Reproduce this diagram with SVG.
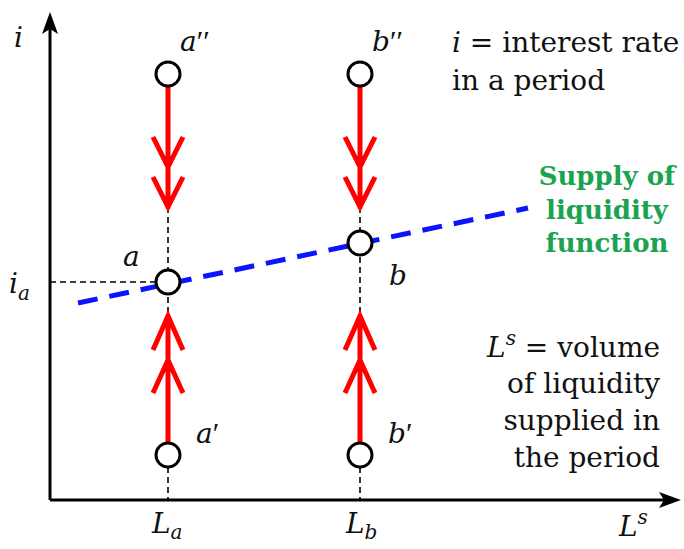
<svg xmlns="http://www.w3.org/2000/svg" width="684" height="549" viewBox="0 0 684 549">
<style>
.txt{font-family:"DejaVu Serif","Liberation Serif",serif;font-size:28px;fill:#111}
.m{font-family:"DejaVu Serif","Liberation Serif",serif;font-style:italic;font-size:28px;fill:#111}
.sub{font-size:20px}
.pr{font-style:normal;font-family:"Liberation Serif","DejaVu Serif",serif;font-size:30px}
.green{font-family:"DejaVu Serif","Liberation Serif",serif;font-weight:bold;font-size:26px;fill:#1aa350}
.axis{stroke:#000;stroke-width:3;fill:none}
.guide{stroke:#000;stroke-width:1.6;stroke-dasharray:6 4;fill:none}
.red{stroke:#ff0000;stroke-width:5;fill:none;stroke-linecap:butt;stroke-linejoin:miter}
.pt{fill:#fff;stroke:#000;stroke-width:3}
.supply{stroke:#0a14ff;stroke-width:5;stroke-dasharray:20 12;fill:none}
</style>
<g id="axes">
<line class="axis" x1="50" y1="500" x2="50" y2="28"/>
<polygon points="50,12 42,34 50,29 58,34" fill="#000"/>
<line class="axis" x1="50" y1="500" x2="666" y2="500"/>
<polygon points="681,500 659,492 664,500 659,508" fill="#000"/>
<text class="m" x="14" y="47">i</text>
<text class="m" x="619" y="536">L<tspan class="sub" dy="-12">s</tspan></text>
</g>
<g id="connectors">
<line class="guide" x1="168" y1="207" x2="168" y2="500"/>
<line class="guide" x1="360" y1="207" x2="360" y2="500"/>
<line class="guide" x1="50" y1="282" x2="156" y2="282"/>
<line class="supply" x1="78" y1="303" x2="528" y2="208"/>
<path class="red" d="M168,86 V207 M153,137 L168,167 L183,137 M153,177 L168,207 L183,177"/>
<path class="red" d="M360,86 V207 M345,137 L360,167 L375,137 M345,177 L360,207 L375,177"/>
<path class="red" d="M168,443 V316 M153,350 L168,316 L183,350 M153,393 L168,360 L183,393"/>
<path class="red" d="M360,443 V316 M345,350 L360,316 L375,350 M345,393 L360,360 L375,393"/>
</g>
<g id="node-a2"><circle class="pt" cx="168" cy="74" r="12"/><text class="m" x="180" y="51">a<tspan class="pr">′′</tspan></text></g>
<g id="node-b2"><circle class="pt" cx="360" cy="74" r="12"/><text class="m" x="372" y="51">b<tspan class="pr">′′</tspan></text></g>
<g id="node-a"><circle class="pt" cx="168" cy="282" r="12"/><text class="m" x="123" y="266">a</text></g>
<g id="node-b"><circle class="pt" cx="360" cy="243" r="12"/><text class="m" x="389" y="285">b</text></g>
<g id="node-a1"><circle class="pt" cx="168" cy="455" r="12"/><text class="m" x="196" y="443">a<tspan class="pr">′</tspan></text></g>
<g id="node-b1"><circle class="pt" cx="360" cy="455" r="12"/><text class="m" x="388" y="443">b<tspan class="pr">′</tspan></text></g>
<g id="labels">
<text class="m" x="9" y="293">i<tspan class="sub" dy="7">a</tspan></text>
<text class="m" x="152" y="533">L<tspan class="sub" dy="6">a</tspan></text>
<text class="m" x="346" y="533">L<tspan class="sub" dy="6">b</tspan></text>
<text class="txt" x="452" y="52"><tspan font-style="italic">i</tspan> = interest  rate</text>
<text class="txt" x="452" y="90">in a period</text>
<text class="green" text-anchor="middle" x="607" y="185">Supply of</text>
<text class="green" text-anchor="middle" x="607" y="219">liquidity</text>
<text class="green" text-anchor="middle" x="607" y="252">function</text>
<text class="txt" text-anchor="end" x="660" y="357"><tspan font-style="italic">L</tspan><tspan class="sub" font-style="italic" dy="-12">s</tspan><tspan dy="12"> = volume</tspan></text>
<text class="txt" text-anchor="end" x="660" y="393">of liquidity</text>
<text class="txt" text-anchor="end" x="660" y="430">supplied in</text>
<text class="txt" text-anchor="end" x="660" y="467">the period</text>
</g>
</svg>
